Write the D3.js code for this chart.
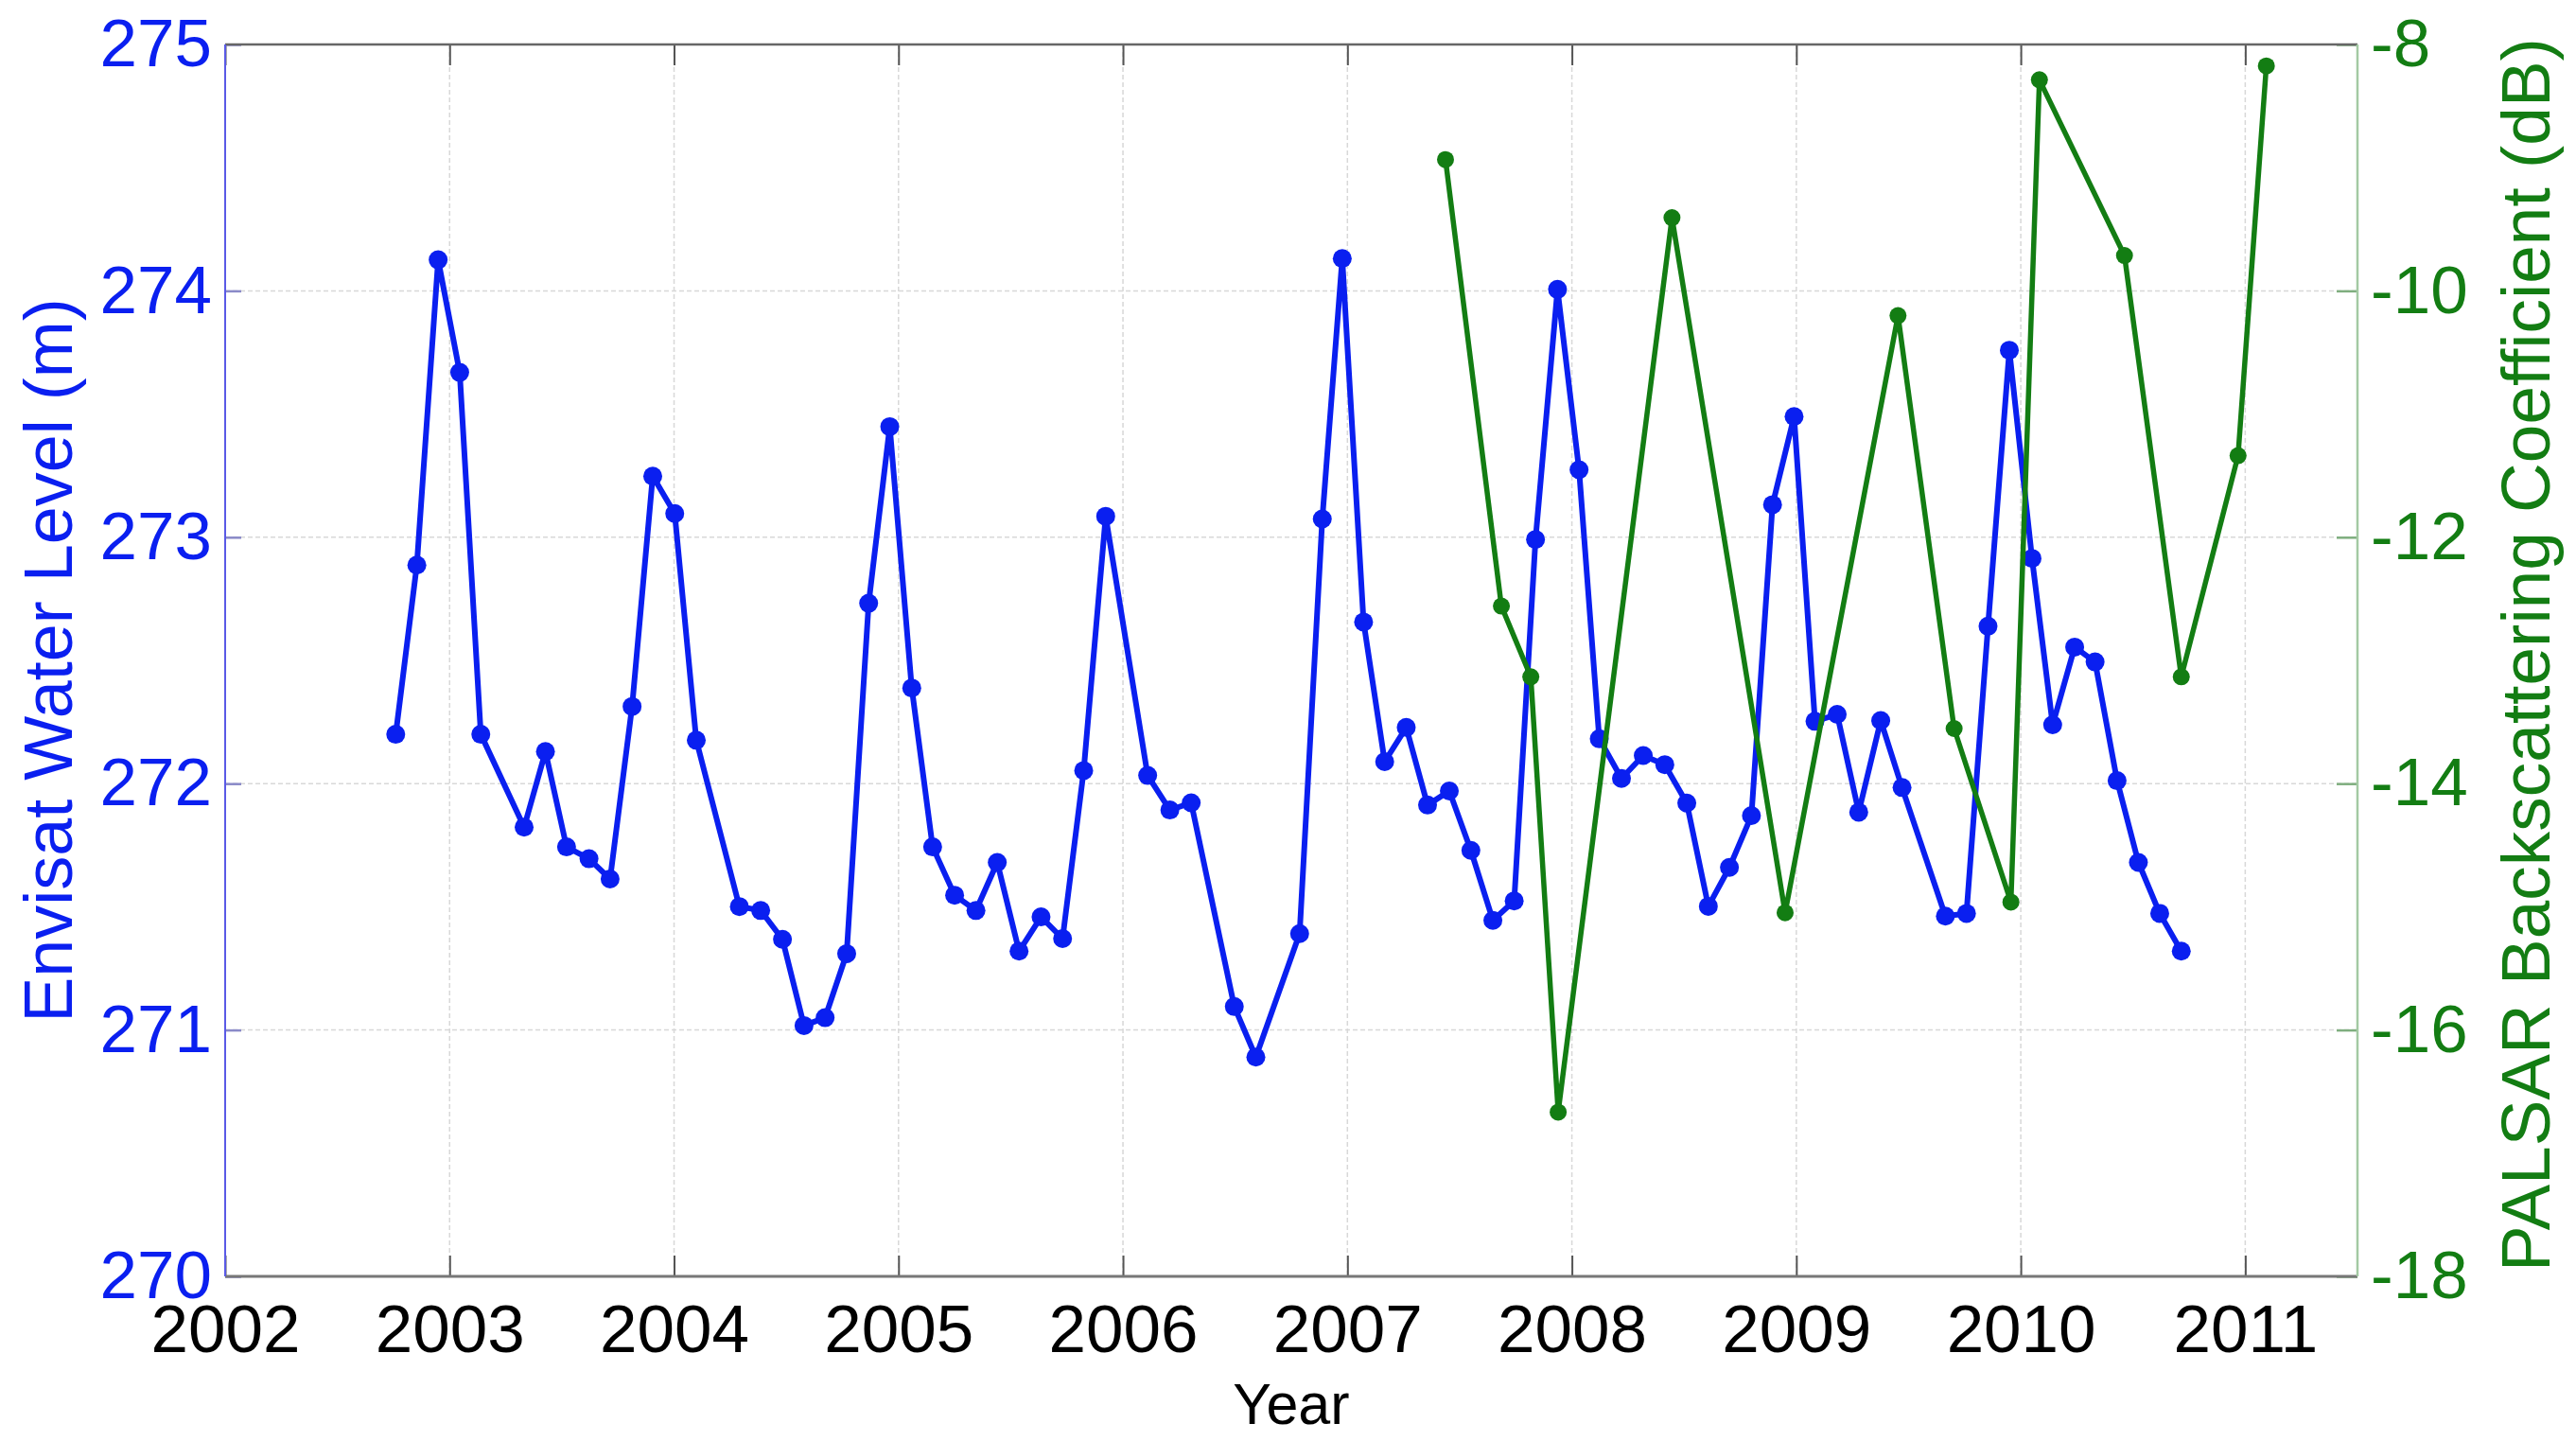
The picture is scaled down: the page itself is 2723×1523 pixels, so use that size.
<!DOCTYPE html>
<html>
<head>
<meta charset="utf-8">
<script src="https://cdn.jsdelivr.net/npm/d3@7/dist/d3.min.js"></script>
<style>
  body { margin: 0; background: #fff; }
  text { font-family: "Liberation Sans", Arial, Helvetica, sans-serif; }
</style>
</head>
<body>
<div id="chart"></div>
<script>
// Envisat altimetry (35-day cycles)
var envisatYears = [
  2002.760, 2002.854, 2002.949, 2003.045, 2003.139, 2003.332, 2003.427, 2003.521, 2003.621, 2003.715,
  2003.813, 2003.905, 2004.003, 2004.099, 2004.291, 2004.386, 2004.483, 2004.579, 2004.673, 2004.769,
  2004.867, 2004.961, 2005.059, 2005.152, 2005.250, 2005.345, 2005.440, 2005.537, 2005.635, 2005.731,
  2005.825, 2005.923, 2006.110, 2006.209, 2006.304, 2006.496, 2006.592, 2006.787, 2006.888, 2006.977,
  2007.072, 2007.166, 2007.262, 2007.357, 2007.454, 2007.550, 2007.648, 2007.743, 2007.838, 2007.936,
  2008.032, 2008.122, 2008.221, 2008.318, 2008.414, 2008.512, 2008.608, 2008.702, 2008.800, 2008.894,
  2008.990, 2009.083, 2009.182, 2009.278, 2009.376, 2009.471, 2009.664, 2009.758, 2009.854, 2009.949,
  2010.050, 2010.142, 2010.240, 2010.331, 2010.429, 2010.524, 2010.619, 2010.715
]
var envisatLevels = [
  272.20, 272.887, 274.126, 273.669, 272.20, 271.823, 272.130, 271.743, 271.695, 271.613,
  272.313, 273.248, 273.096, 272.176, 271.501, 271.485, 271.368, 271.018, 271.05, 271.31,
  272.732, 273.449, 272.388, 271.743, 271.547, 271.485, 271.68, 271.32, 271.459, 271.371,
  272.053, 273.085, 272.033, 271.893, 271.922, 271.095, 270.89, 271.391, 273.074, 274.131,
  272.656, 272.089, 272.228, 271.913, 271.970, 271.729, 271.445, 271.524, 272.991, 274.006,
  273.274, 272.182, 272.021, 272.114, 272.077, 271.921, 271.502, 271.66, 271.87, 273.132,
  273.49, 272.253, 272.281, 271.884, 272.256, 271.984, 271.462, 271.473, 272.639, 273.759,
  272.914, 272.239, 272.554, 272.494, 272.012, 271.68, 271.473, 271.32
]
// PALSAR backscatter (46-day repeat)
var palsarYears = [
  2007.437, 2007.686, 2007.817, 2007.939, 2008.446, 2008.950, 2009.453,
  2009.703, 2009.956, 2010.083, 2010.462, 2010.715, 2010.968, 2011.094
]
var palsarDb = [
  -8.935, -12.559, -13.133, -16.667, -9.406, -15.048, -10.201,
  -13.553, -14.962, -8.287, -9.713, -13.133, -11.338, -8.174
]
var yearTicks = [2002, 2003, 2004, 2005, 2006, 2007, 2008, 2009, 2010, 2011]
var levelTicks = [270, 271, 272, 273, 274, 275]
var dbTicks = [-18, -16, -14, -12, -10, -8]

var fullW = 2723
var fullH = 1523
var margin = { top: 47, left: 238, right: 231, bottom: 174 }
var width = fullW - margin.left - margin.right
var height = fullH - margin.top - margin.bottom

var blue = '#0a1ff0'
var green = '#137d13'
var tickFont = 71

var svg = d3
  .select('#chart')
  .append('svg')
  .attr('width', fullW)
  .attr('height', fullH)
  .style('display', 'block')

var g = svg.append('g').attr('transform', `translate(${margin.left},${margin.top})`)

var x = d3.scaleLinear().domain([2002, 2011.5]).range([0, width])
var yLeft = d3.scaleLinear().domain([270, 275]).range([height, 0])
var yRight = d3.scaleLinear().domain([-18, -8]).range([height, 0])

// grid, dotted light grey like matlab
var grid = g.append('g').attr('class', 'grid')
grid
  .selectAll('line.gx')
  .data(yearTicks.slice(1))
  .enter()
  .append('line')
  .attr('x1', d => x(d))
  .attr('x2', d => x(d))
  .attr('y1', 0)
  .attr('y2', height)
  .attr('stroke', '#d8d8d8')
  .attr('stroke-width', 1.5)
  .attr('stroke-dasharray', '5,3')
grid
  .selectAll('line.gy')
  .data(levelTicks.slice(1, -1))
  .enter()
  .append('line')
  .attr('x1', 0)
  .attr('x2', width)
  .attr('y1', d => yLeft(d))
  .attr('y2', d => yLeft(d))
  .attr('stroke', '#d8d8d8')
  .attr('stroke-width', 1.5)
  .attr('stroke-dasharray', '5,3')

// bottom axis with inward ticks
var xAxis = g
  .append('g')
  .attr('transform', `translate(0,${height})`)
  .call(d3.axisBottom(x).tickValues(yearTicks).tickFormat(d3.format('d')).tickSizeInner(-22).tickSizeOuter(0).tickPadding(30))
xAxis.select('.domain').remove()
xAxis.selectAll('.tick line').attr('stroke', '#555').attr('stroke-width', 2)
xAxis.selectAll('.tick text').attr('font-size', tickFont).attr('fill', '#000').attr('dy', '0.71em')

var xTop = g
  .append('g')
  .call(d3.axisTop(x).tickValues(yearTicks).tickFormat('').tickSizeInner(-22).tickSizeOuter(0))
xTop.select('.domain').remove()
xTop.selectAll('.tick line').attr('stroke', '#555').attr('stroke-width', 2)

// left axis (water level)
var yAxisL = g
  .append('g')
  .call(d3.axisLeft(yLeft).tickValues(levelTicks).tickFormat(d3.format('d')).tickSizeInner(-17).tickSizeOuter(0).tickPadding(14))
yAxisL.select('.domain').remove()
yAxisL.selectAll('.tick line').attr('stroke', '#8a8ac8').attr('stroke-width', 2.5)
yAxisL.selectAll('.tick text').attr('font-size', tickFont).attr('fill', blue)

// right axis (backscatter)
var yAxisR = g
  .append('g')
  .attr('transform', `translate(${width},0)`)
  .call(d3.axisRight(yRight).tickValues(dbTicks).tickFormat(d => d).tickSizeInner(-22).tickSizeOuter(0).tickPadding(14))
yAxisR.select('.domain').remove()
yAxisR.selectAll('.tick line').attr('stroke', '#7fae7f').attr('stroke-width', 2.5)
yAxisR.selectAll('.tick text').attr('font-size', tickFont).attr('fill', green)

// box
g.append('line').attr('x1', 0).attr('x2', width).attr('y1', 0).attr('y2', 0).attr('stroke', '#666').attr('stroke-width', 2.5)
g.append('line').attr('x1', 0).attr('x2', width).attr('y1', height).attr('y2', height).attr('stroke', '#777').attr('stroke-width', 3)
g.append('line').attr('x1', 0).attr('x2', 0).attr('y1', 0).attr('y2', height).attr('stroke', '#5a5ae6').attr('stroke-width', 2)
g.append('line').attr('x1', width).attr('x2', width).attr('y1', 0).attr('y2', height).attr('stroke', '#a3c9a3').attr('stroke-width', 2.5)

var envisat = envisatYears.map((d, i) => ({ t: d, v: envisatLevels[i] }))
var palsar = palsarYears.map((d, i) => ({ t: d, v: palsarDb[i] }))

var lineL = d3.line().x(d => x(d.t)).y(d => yLeft(d.v))
var lineR = d3.line().x(d => x(d.t)).y(d => yRight(d.v))

// envisat series
g.append('path')
  .datum(envisat)
  .attr('d', lineL)
  .attr('fill', 'none')
  .attr('stroke', blue)
  .attr('stroke-width', 6)
  .attr('stroke-linejoin', 'round')
g.append('g')
  .selectAll('circle')
  .data(envisat)
  .enter()
  .append('circle')
  .attr('cx', d => x(d.t))
  .attr('cy', d => yLeft(d.v))
  .attr('r', 10)
  .attr('fill', blue)

// palsar goes on top
g.append('path')
  .datum(palsar)
  .attr('d', lineR)
  .attr('fill', 'none')
  .attr('stroke', green)
  .attr('stroke-width', 5.5)
  .attr('stroke-linejoin', 'round')
g.append('g')
  .selectAll('circle')
  .data(palsar)
  .enter()
  .append('circle')
  .attr('cx', d => x(d.t))
  .attr('cy', d => yRight(d.v))
  .attr('r', 9)
  .attr('fill', green)

// axis titles
g.append('text')
  .text('Year')
  .attr('x', width / 2)
  .attr('y', 1505 - margin.top)
  .attr('text-anchor', 'middle')
  .attr('font-size', 61)
  .attr('fill', '#000')

svg.append('text')
  .text('Envisat Water Level (m)')
  .attr('transform', `translate(76,${margin.top + height / 2}) rotate(-90)`)
  .attr('text-anchor', 'middle')
  .attr('font-size', 72)
  .attr('fill', blue)

svg.append('text')
  .text('PALSAR Backscattering Coefficient (dB)')
  .attr('transform', `translate(2695,${margin.top + height / 2 - 6}) rotate(-90)`)
  .attr('text-anchor', 'middle')
  .attr('font-size', 73)
  .attr('fill', green)
</script>
</body>
</html>
